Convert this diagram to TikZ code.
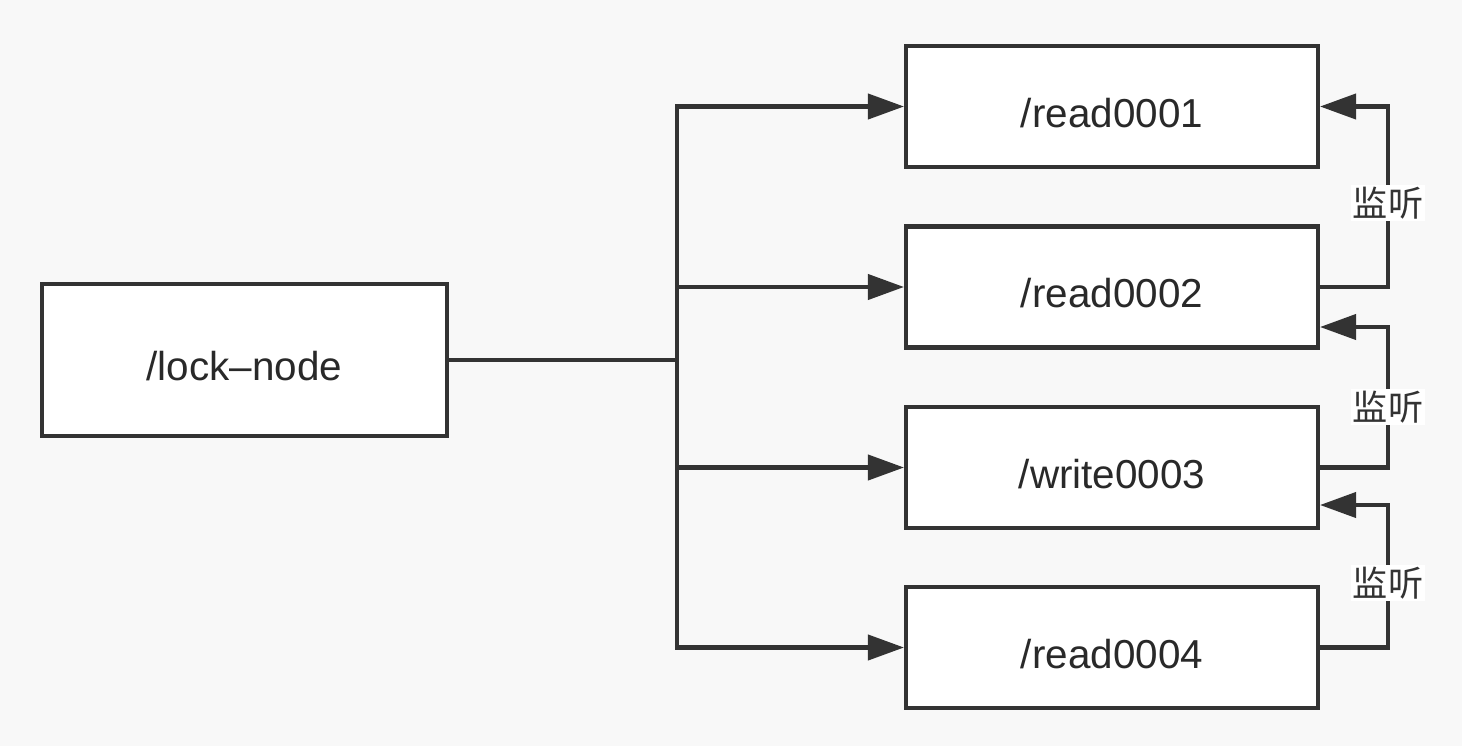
\documentclass[tikz,border=0pt]{standalone}
\usepackage{fontspec}
\setmainfont{Liberation Sans}
\newfontfamily\cjk{Noto Sans CJK SC}
\usepackage{tikz}
\usetikzlibrary{arrows.meta}
\definecolor{bgc}{HTML}{F8F8F8}
\definecolor{linec}{HTML}{333333}

\begin{document}
\begin{tikzpicture}[
    box/.style={draw=linec, line width=2.3pt, fill=white, shape=rectangle, align=center, inner sep=0pt, text height=0.82cm, text depth=0cm, text=linec!80!black, font=\fontsize{23pt}{27pt}\selectfont},
    link/.style={draw=linec, line width=2.3pt},
    arrow/.style={link, -{Triangle[length=0.72cm, width=0.5cm]}},
    tag/.style={fill=white, inner sep=1pt, text=linec, font=\cjk\fontsize{20pt}{24pt}\selectfont}]
            \fill[bgc] (0,0) rectangle (29.24,-14.92);
            \useasboundingbox (0,0) rectangle (29.24,-14.92);
            \node[box, minimum width=8.1cm, minimum height=3.04cm] (lock) at (4.89,-7.2) {/lock–node};
            \node[box, minimum width=8.24cm, minimum height=2.42cm] (r1) at (22.24,-2.13) {/read0001};
            \node[box, minimum width=8.24cm, minimum height=2.42cm] (r2) at (22.24,-5.74) {/read0002};
            \node[box, minimum width=8.24cm, minimum height=2.42cm] (w3) at (22.24,-9.35) {/write0003};
            \node[box, minimum width=8.24cm, minimum height=2.42cm] (r4) at (22.24,-12.95) {/read0004};
            \coordinate (trunk) at (13.54,-7.2);
            \coordinate (watch) at (27.76,0);
            \draw[link] (lock.east) -- (trunk);
            \draw[arrow] (trunk) |- (r1.west);
            \draw[arrow] (trunk) |- (r2.west);
            \draw[arrow] (trunk) |- (w3.west);
            \draw[arrow] (trunk) |- (r4.west);
            \draw[arrow] (r2.east) -- (r2.east -| watch) -- (r1.east -| watch) -- (r1.east);
            \draw[arrow] (w3.east) -- (w3.east -| watch) -- ([yshift=-0.8cm]r2.east -| watch) -- ([yshift=-0.8cm]r2.east);
            \draw[arrow] (r4.east) -- (r4.east -| watch) -- ([yshift=-0.75cm]w3.east -| watch) -- ([yshift=-0.75cm]w3.east);
            \node[tag] (t1) at (27.76,-4.06) {监听};
            \node[tag] (t2) at (27.76,-8.14) {监听};
            \node[tag] (t3) at (27.76,-11.66) {监听};
        \end{tikzpicture}
\end{document}
